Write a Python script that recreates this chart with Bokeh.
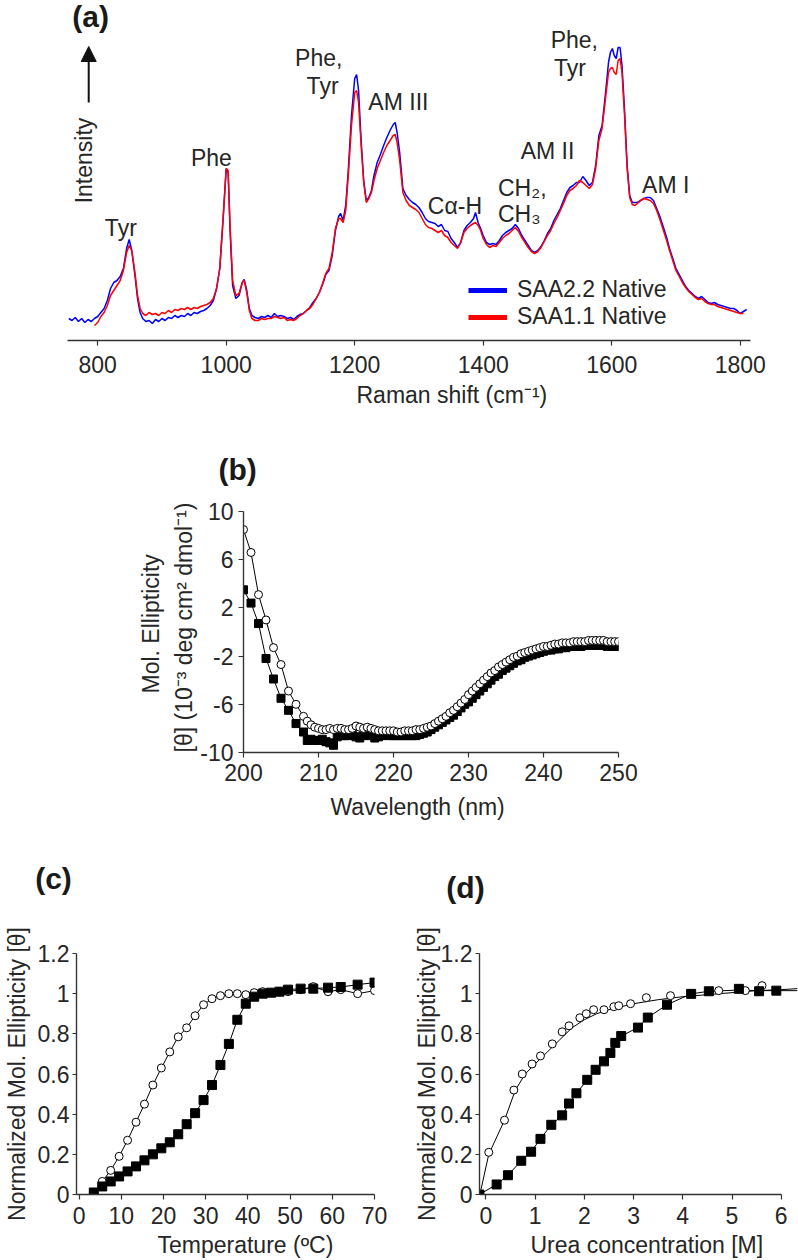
import math
from bokeh.plotting import figure
from bokeh.layouts import column, row
from bokeh.models import (Label, Arrow, NormalHead, Legend, LegendItem,
                          FixedTicker, Range1d, Title)
from bokeh.embed import file_html
from bokeh.resources import INLINE

NaN = float("nan")

# ---------------- (a) Raman spectra ----------------
raman_shift = [
    755, 760, 765, 770, 775, 780, 785, 790, 795, 800,
    805, 810, 815, 820, 825, 830, 835, 840, 845, 849,
    853, 858, 862, 866, 870, 875, 880, 885, 890, 895,
    900, 905, 910, 915, 920, 925, 930, 935, 940, 945,
    950, 955, 960, 965, 970, 975, 980, 985, 990, 995,
    1000, 1003, 1006, 1010, 1015, 1020, 1025, 1028, 1032, 1036,
    1040, 1045, 1050, 1055, 1060, 1065, 1070, 1075, 1080, 1085,
    1090, 1095, 1100, 1105, 1110, 1115, 1120, 1125, 1130, 1135,
    1140, 1145, 1150, 1155, 1160, 1165, 1170, 1175, 1178, 1182,
    1186, 1190, 1195, 1200, 1203, 1206, 1210, 1214, 1218, 1222,
    1226, 1230, 1235, 1240, 1245, 1250, 1255, 1260, 1263, 1266,
    1270, 1275, 1280, 1285, 1290, 1295, 1300, 1305, 1310, 1315,
    1320, 1325, 1330, 1335, 1340, 1345, 1350, 1355, 1360, 1365,
    1370, 1375, 1380, 1385, 1388, 1392, 1396, 1400, 1405, 1410,
    1415, 1420, 1425, 1430, 1435, 1440, 1445, 1450, 1455, 1460,
    1465, 1470, 1475, 1480, 1485, 1490, 1495, 1500, 1505, 1510,
    1515, 1520, 1525, 1530, 1535, 1540, 1545, 1550, 1555, 1560,
    1565, 1570, 1575, 1580, 1585, 1590, 1595, 1598, 1601, 1604,
    1607, 1610, 1613, 1616, 1620, 1624, 1628, 1632, 1636, 1640,
    1645, 1650, 1655, 1660, 1665, 1670, 1675, 1680, 1685, 1690,
    1695, 1700, 1705, 1710, 1715, 1720, 1725, 1730, 1735, 1740,
    1745, 1750, 1755, 1760, 1765, 1770, 1775, 1780, 1785, 1790,
    1795, 1800, 1805, 1810,
]
saa22_native = [
    22, 20, 23, 19, 22, 18, 21, 19, 22, 24,
    28, 32, 40, 52, 58, 60, 64, 72, 92, 101,
    90, 65, 42, 28, 22, 19, 20, 17, 21, 19,
    22, 20, 23, 22, 25, 23, 25, 24, 27, 25,
    28, 27, 29, 30, 32, 35, 40, 52, 72, 120,
    172, 168, 110, 55, 42, 45, 58, 61, 50, 32,
    25, 23, 22, 24, 23, 25, 23, 27, 24, 25,
    24, 22, 23, 21, 24, 26, 27, 30, 33, 38,
    42, 48, 56, 66, 70, 85, 110, 124, 127, 120,
    135, 170, 225, 262, 266, 250, 200, 160, 140, 143,
    150, 165, 178, 186, 195, 203, 210, 216, 218, 208,
    188, 152, 145, 141, 138, 136, 133, 128, 122, 119,
    118, 117, 114, 116, 110, 109, 102, 98, 93, 98,
    110, 115, 118, 122, 128, 118, 112, 105, 98, 96,
    97, 96, 100, 105, 108, 110, 112, 116, 112, 105,
    100, 95, 90, 88, 90, 94, 100, 107, 112, 120,
    126, 132, 140, 148, 153, 155, 158, 158, 164, 160,
    155, 158, 175, 205, 215, 245, 278, 288, 292, 285,
    282, 293, 293, 275, 230, 175, 145, 138, 138, 138,
    140, 142, 143, 143, 140, 132, 124, 114, 104, 92,
    82, 72, 66, 60, 54, 50, 47, 44, 42, 44,
    41, 38, 37, 38, 36, 35, 34, 33, 32, 32,
    30, 27, 29, 31,
]
saa11_native = [
    NaN, NaN, NaN, NaN, NaN, NaN, NaN, NaN, 15, 18,
    24, 28, 35, 45, 50, 55, 60, 70, 88, 95,
    90, 68, 45, 32, 27, 25, 28, 26, 27, 25,
    28, 27, 30, 28, 31, 30, 32, 31, 33, 31,
    33, 32, 34, 35, 36, 38, 42, 52, 72, 120,
    172, 170, 115, 60, 45, 47, 58, 60, 48, 30,
    22, 20, 20, 22, 21, 22, 22, 24, 23, 22,
    23, 20, 21, 20, 22, 25, 27, 30, 32, 36,
    42, 48, 57, 67, 72, 88, 112, 122, 122, 118,
    130, 165, 215, 248, 250, 238, 195, 158, 138, 142,
    148, 160, 172, 180, 188, 195, 200, 205, 206, 198,
    180, 148, 140, 135, 133, 131, 128, 122, 116, 113,
    112, 110, 108, 110, 105, 103, 98, 95, 92, 98,
    108, 112, 115, 117, 118, 115, 110, 102, 96, 93,
    95, 94, 98, 102, 105, 107, 110, 113, 109, 103,
    98, 93, 89, 87, 89, 93, 99, 105, 110, 117,
    123, 130, 137, 145, 150, 152, 155, 160, 158, 155,
    152, 156, 172, 200, 212, 240, 268, 272, 273, 268,
    266, 280, 282, 268, 225, 172, 143, 136, 135, 137,
    140, 142, 141, 140, 137, 130, 121, 111, 101, 90,
    80, 70, 64, 58, 53, 49, 46, 43, 41, 42,
    39, 37, 36, 36, 34, 33, 32, 31, 30, 29,
    28, 27, 27, NaN,
]
raman_ticks = [800, 1000, 1200, 1400, 1600, 1800]

# ---------------- (b) CD spectra ----------------
wavelength = [200, 201, 202, 203, 204, 205, 206, 207, 208,
              208.5, 209, 209.5, 210, 210.5, 211, 211.5, 212, 212.5, 213,
              213.5, 214, 214.5, 215, 215.5, 216, 216.5, 217, 217.5, 218,
              218.5, 219, 219.5, 220, 220.5, 221, 221.5, 222, 222.5, 223,
              223.5, 224, 224.5, 225, 225.5, 226, 226.5, 227, 227.5, 228,
              228.5, 229, 229.5, 230, 230.5, 231, 231.5, 232, 232.5, 233,
              233.5, 234, 234.5, 235, 235.5, 236, 236.5, 237, 237.5, 238,
              238.5, 239, 239.5, 240, 240.5, 241, 241.5, 242, 242.5, 243,
              243.5, 244, 244.5, 245, 245.5, 246, 246.5, 247, 247.5, 248,
              248.5, 249, 249.5, 250]
cd_open = [8.5, 6.6, 3.1, 1.0, -1.3, -2.7, -4.9, -6.0, -7.0,
           -7.4, -7.7, -7.9, -8.0, -8.1, -8.1, -8.0, -8.1, -8.0, -8.0,
           -8.1, -8.1, -8.0, -7.8, -7.9, -8.0, -7.9, -8.0, -8.1, -8.2,
           -8.2, -8.2, -8.2, -8.2, -8.3, -8.3, -8.2, -8.2, -8.2, -8.1,
           -8.1, -8.0, -7.9, -7.8, -7.6, -7.4, -7.2, -7.0, -6.7, -6.5,
           -6.2, -5.9, -5.6, -5.2, -4.9, -4.6, -4.3, -4.0, -3.7, -3.4,
           -3.2, -2.9, -2.7, -2.5, -2.3, -2.1, -2.0, -1.8, -1.7, -1.6,
           -1.5, -1.4, -1.3, -1.2, -1.2, -1.1, -1.0, -1.0, -0.9, -0.9,
           -0.9, -0.8, -0.8, -0.8, -0.8, -0.7, -0.7, -0.7, -0.7, -0.7,
           -0.8, -0.8, -0.8, -0.8]
cd_filled = [3.5, 2.4, 0.7, -2.2, -3.9, -5.5, -6.5, -7.6, -8.3,
             -9.0, -8.9, -9.0, -9.0, -8.9, -9.1, -9.2, -9.4, -8.7, -8.6,
             -8.6, -8.6, -8.5, -8.7, -8.8, -8.6, -8.5, -8.6, -8.8, -8.7,
             -8.6, -8.5, -8.6, -8.6, -8.6, -8.6, -8.6, -8.6, -8.6, -8.6,
             -8.5, -8.4, -8.3, -8.1, -7.9, -7.7, -7.5, -7.3, -7.1, -6.9,
             -6.6, -6.3, -6.0, -5.8, -5.5, -5.2, -4.9, -4.6, -4.3, -4.0,
             -3.7, -3.5, -3.2, -3.0, -2.8, -2.6, -2.4, -2.3, -2.1, -2.0,
             -1.9, -1.8, -1.7, -1.6, -1.5, -1.5, -1.4, -1.4, -1.3, -1.3,
             -1.2, -1.2, -1.2, -1.2, -1.1, -1.1, -1.1, -1.1, -1.1, -1.1,
             -1.2, -1.2, -1.2, -1.2]
cd_xticks = [200, 210, 220, 230, 240, 250]
cd_yticks = [-10, -6, -2, 2, 6, 10]
cd_ylabels = ["-10", "-6", "-2", "2", "6", "10"]

# ---------------- (c) thermal unfolding ----------------
temp_open = [3.5, 5.5, 7.5, 9.5, 11.5, 13.5, 15.5, 17.5, 19.5, 21.5,
             23.5, 25.5, 27.5, 29.5, 31.5, 33.5, 35.5, 37.5, 39.5, 41.5,
             43.5, 45.5, 47.5, 49.5, 52.5, 55.5, 59, 62, 66, 70]
therm_open = [0.01, 0.065, 0.12, 0.19, 0.27, 0.36, 0.45, 0.545, 0.63, 0.71,
              0.785, 0.83, 0.89, 0.945, 0.975, 0.99, 1.0, 1.0, 0.995, 1.005,
              1.01, 1.005, 1.01, 1.01, 1.02, 1.035, 1.01, 1.02, 1.0, 1.015]
temp_filled = [3.5, 5.5, 7.5, 9.5, 11.5, 13.5, 15.5, 17.5, 19.5, 21.5,
               23.5, 25.5, 27.5, 29.5, 31.5, 33.5, 35.5, 37.5, 39.5, 41.5,
               43.5, 45.5, 47.5, 49.5, 52.5, 55.5, 59, 62, 66, 70]
therm_filled = [0.01, 0.04, 0.065, 0.09, 0.115, 0.14, 0.17, 0.2, 0.23, 0.26,
                0.3, 0.35, 0.405, 0.47, 0.545, 0.645, 0.75, 0.87, 0.95, 0.985,
                1.0, 1.005, 1.01, 1.02, 1.025, 1.025, 1.03, 1.033, 1.045, 1.055]
temp_ticks = [0, 10, 20, 30, 40, 50, 60, 70]

# ---------------- (d) urea unfolding ----------------
urea_open = [-0.12, 0.06, 0.38, 0.57, 0.74, 0.94, 1.11, 1.35, 1.55, 1.69,
             1.91, 2.04, 2.19, 2.40, 2.60, 2.70, 2.94, 3.26, 3.75, 4.73,
             5.27, 5.61]
urea_open_val = [0.0, 0.21, 0.37, 0.52, 0.60, 0.65, 0.69, 0.75, 0.81, 0.84,
                 0.88, 0.90, 0.92, 0.92, 0.935, 0.94, 0.95, 0.98, 0.99, 1.015,
                 1.015, 1.04]
urea_filled = [-0.13, 0.22, 0.45, 0.72, 0.92, 1.11, 1.33, 1.55, 1.69, 1.84,
               2.06, 2.23, 2.40, 2.53, 2.63, 2.75, 3.09, 3.29, 3.68, 4.17,
               4.53, 5.14, 5.55, 5.90]
urea_filled_val = [0.0, 0.05, 0.096, 0.168, 0.213, 0.277, 0.347, 0.394, 0.453, 0.504,
                   0.571, 0.621, 0.663, 0.705, 0.755, 0.789, 0.831, 0.881, 0.945, 0.999,
                   1.012, 1.024, 1.012, 1.015]
# fitted curves
fit_open_urea = [-0.12, 0.06, 0.38, 0.6, 0.8, 1.0, 1.25, 1.5, 1.75, 2.0,
                 2.25, 2.5, 2.75, 3.0, 3.5, 4.0, 4.5, 5.0, 5.5, 6.0, 6.33]
fit_open_val = [0.0, 0.2, 0.37, 0.52, 0.6, 0.65, 0.71, 0.77, 0.83, 0.87,
                0.9, 0.92, 0.935, 0.95, 0.97, 0.985, 0.995, 1.005, 1.015,
                1.02, 1.025]
fit_filled_urea = [-0.13, 0.22, 0.45, 0.72, 0.92, 1.11, 1.33, 1.55, 1.69, 1.84,
                   2.06, 2.23, 2.40, 2.53, 2.63, 2.75, 3.09, 3.29, 3.68, 4.17,
                   4.53, 5.14, 5.55, 5.90, 6.33]
fit_filled_val = [0.0, 0.05, 0.096, 0.168, 0.213, 0.277, 0.347, 0.394, 0.453, 0.504,
                  0.571, 0.621, 0.663, 0.705, 0.755, 0.789, 0.831, 0.881, 0.945, 0.999,
                  1.012, 1.018, 1.015, 1.015, 1.015]
urea_ticks = [0, 1, 2, 3, 4, 5, 6]

norm_ticks = [0, 0.2, 0.4, 0.6, 0.8, 1.0, 1.2]
norm_labels = ["0", "0.2", "0.4", "0.6", "0.8", "1", "1.2"]

# ---------------- styling helpers ----------------
FONT = "Liberation Sans"
FS = "23px"
TXT = "#262626"
AXC = "#333333"
BLUE = "#0000ff"
RED = "#ff0000"


def base_fig(**kw):
    p = figure(toolbar_location=None, output_backend="svg", **kw)
    p.outline_line_color = None
    p.xgrid.grid_line_color = None
    p.ygrid.grid_line_color = None
    p.background_fill_color = "white"
    p.border_fill_color = "white"
    return p


def style_axis(ax, ticks, labels=None, standoff=5):
    ax.ticker = FixedTicker(ticks=ticks)
    if labels is not None:
        ax.major_label_overrides = {t: l for t, l in zip(ticks, labels)}
    ax.major_label_text_font = FONT
    ax.major_label_text_font_size = FS
    ax.major_label_text_color = TXT
    ax.major_label_standoff = standoff
    ax.axis_line_color = AXC
    ax.axis_line_width = 1.4
    ax.major_tick_line_color = AXC
    ax.major_tick_line_width = 1.2
    ax.major_tick_in = 0
    ax.major_tick_out = 5
    ax.minor_tick_line_color = None
    ax.axis_label_text_font = FONT
    ax.axis_label_text_font_size = FS
    ax.axis_label_text_font_style = "normal"
    ax.axis_label_text_color = TXT


def lab(p, x, y, text, size=FS, bold=False, angle=0.0,
        align="center", baseline="middle"):
    p.add_layout(Label(x=x, y=y, text=text, text_font=FONT,
                       text_font_size=size,
                       text_font_style="bold" if bold else "normal",
                       text_color="#1a1a1a" if bold else TXT, angle=angle,
                       text_align=align, text_baseline=baseline))


def side_title(p, text, place, offset, standoff, align="left"):
    p.add_layout(Title(text=text, align=align, offset=offset,
                       standoff=standoff, text_font=FONT,
                       text_font_size=FS, text_font_style="normal",
                       text_color=TXT), place)


# ================= panel (a) =================
pa = base_fig(width=798, height=420, x_range=Range1d(753, 1816),
              y_range=Range1d(0, 340), y_axis_location=None,
              title_location=None,
              min_border_left=67, min_border_right=48,
              min_border_top=0, min_border_bottom=80)
style_axis(pa.xaxis[0], raman_ticks, standoff=10)

pa.line(raman_shift, saa22_native, color=BLUE, line_width=1.5)
pa.line(raman_shift, saa11_native, color=RED, line_width=1.5)

leg_blue = pa.line([NaN], [NaN], color=BLUE, line_width=5)
leg_red = pa.line([NaN], [NaN], color=RED, line_width=5)
legend = Legend(items=[LegendItem(label="SAA2.2 Native", renderers=[leg_blue]),
                       LegendItem(label="SAA1.1 Native", renderers=[leg_red])],
                location=(401, 10), padding=0, margin=0, spacing=-9,
                glyph_width=39, glyph_height=22, label_height=22,
                label_standoff=10, label_text_font=FONT,
                label_text_font_size=FS, label_text_color=TXT,
                background_fill_alpha=0, border_line_color=None)
pa.add_layout(legend)

pa.add_layout(Arrow(end=NormalHead(size=15, fill_color="#111111",
                                   line_color="#111111"),
                    x_start=786, y_start=238, x_end=786, y_end=294,
                    line_width=2, line_color="#111111"))

lab(pa, 789, 324, "(a)", size="30px", bold=True)
lab(pa, 778, 180, "Intensity", angle=math.pi / 2)
lab(pa, 836, 113, "Tyr")
lab(pa, 977, 183, "Phe")
lab(pa, 1144, 283, "Phe,")
lab(pa, 1150, 255, "Tyr")
lab(pa, 1268, 239, "AM III")
lab(pa, 1356, 135, "Cα-H")
lab(pa, 1423, 153, "CH₂,", align="left")
lab(pa, 1423, 127, "CH₃", align="left")
lab(pa, 1500, 190, "AM II")
lab(pa, 1505, 301, "Phe,", align="left")
lab(pa, 1510, 273, "Tyr", align="left")
lab(pa, 1684, 156, "AM I")
side_title(pa, "Raman shift (cm⁻¹)", "below", offset=289, standoff=8)

# ================= panel (b) =================
pb = base_fig(width=798, height=410, x_range=Range1d(200, 250),
              y_range=Range1d(-10, 10),
              min_border_left=243, min_border_right=180,
              min_border_top=91, min_border_bottom=78)
style_axis(pb.xaxis[0], cd_xticks, standoff=6)
style_axis(pb.yaxis[0], cd_yticks, cd_ylabels, standoff=5)
pb.title.text = "(b)"
pb.title.align = "left"
pb.title.offset = -25
pb.title.standoff = 52
pb.title.text_font = FONT
pb.title.text_font_size = "30px"
pb.title.text_font_style = "bold"
pb.title.text_color = "#1a1a1a"

pb.line(wavelength, cd_filled, color="black", line_width=1)
pb.scatter(wavelength, cd_filled, marker="square", size=8,
           fill_color="black", line_color="black")
pb.line(wavelength, cd_open, color="black", line_width=1)
pb.scatter(wavelength, cd_open, marker="circle", size=8,
           fill_color="white", line_color="black", line_width=1)

side_title(pb, "Wavelength (nm)", "below", offset=87, standoff=16)
side_title(pb, "[θ]  (10⁻³ deg cm² dmol⁻¹)", "left", offset=0,
           standoff=1, align="left")
side_title(pb, "Mol. Ellipticity", "left", offset=59, standoff=10,
           align="left")

# ================= header strip with (c) and (d) =================
ph = figure(width=798, height=75, x_range=Range1d(0, 798),
            y_range=Range1d(0, 75), toolbar_location=None,
            output_backend="svg", x_axis_location=None,
            y_axis_location=None, title_location=None,
            min_border_left=0, min_border_right=0,
            min_border_top=0, min_border_bottom=0)
ph.outline_line_color = None
ph.xgrid.grid_line_color = None
ph.ygrid.grid_line_color = None
lab(ph, 53, 27, "(c)", size="30px", bold=True)
lab(ph, 465, 18, "(d)", size="30px", bold=True)

# ================= panel (c) =================
pc = base_fig(width=401, height=355, x_range=Range1d(-0.6, 70),
              y_range=Range1d(0, 1.2), title_location=None,
              min_border_left=73, min_border_right=27,
              min_border_top=48, min_border_bottom=65)
style_axis(pc.xaxis[0], temp_ticks, standoff=7)
style_axis(pc.yaxis[0], norm_ticks, norm_labels, standoff=3)
pc.yaxis[0].major_tick_out = 4
pc.yaxis[0].axis_label = "Normalized Mol. Ellipticity [θ]"
pc.yaxis[0].axis_label_standoff = 5

pc.line(temp_filled, therm_filled, color="black", line_width=1)
pc.line(temp_open, therm_open, color="black", line_width=1)
pc.scatter(temp_open, therm_open, marker="circle", size=8,
           fill_color="white", line_color="black", line_width=1)
pc.scatter(temp_filled, therm_filled, marker="square", size=9,
           fill_color="black", line_color="black")

side_title(pc, "Temperature (ºC)", "below", offset=81, standoff=6)

# ================= panel (d) =================
pd_ = base_fig(width=397, height=355, x_range=Range1d(-0.128, 6.33),
               y_range=Range1d(0, 1.2), title_location=None,
               min_border_left=78, min_border_right=1,
               min_border_top=48, min_border_bottom=65)
style_axis(pd_.xaxis[0], urea_ticks, standoff=7)
pd_.xaxis[0].bounds = (-0.128, 6.0)
style_axis(pd_.yaxis[0], norm_ticks, norm_labels, standoff=3)
pd_.yaxis[0].major_tick_out = 4
pd_.yaxis[0].axis_label = "Normalized Mol. Ellipticity [θ]"
pd_.yaxis[0].axis_label_standoff = -2

pd_.line(fit_filled_urea, fit_filled_val, color="black", line_width=1)
pd_.line(fit_open_urea, fit_open_val, color="black", line_width=1)
pd_.scatter(urea_open, urea_open_val, marker="circle", size=8,
            fill_color="white", line_color="black", line_width=1)
pd_.scatter(urea_filled, urea_filled_val, marker="square", size=9,
            fill_color="black", line_color="black")

side_title(pd_, "Urea concentration [M]", "below", offset=51, standoff=6)

layout = column(row(pa), row(pb), row(ph), row(pc, pd_, spacing=0),
                spacing=0)

with open("out.html", "w") as f:
    f.write(file_html(layout, INLINE))
